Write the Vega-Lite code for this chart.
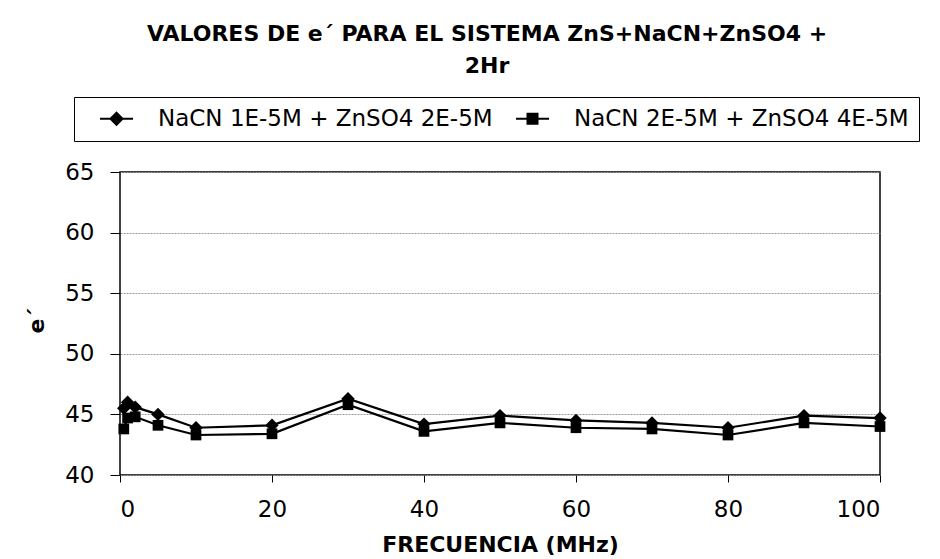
{
  "$schema": "https://vega.github.io/schema/vega-lite/v6.json",
  "width": 760,
  "height": 303,
  "autosize": {"type": "none"},
  "padding": {"left": 120, "top": 172, "right": 60, "bottom": 84},
  "background": "white",
  "title": {
    "text": ["VALORES DE e´ PARA EL SISTEMA  ZnS+NaCN+ZnSO4 +", "2Hr"],
    "font": "DejaVu Sans",
    "fontSize": 22,
    "fontWeight": "bold",
    "lineHeight": 32,
    "color": "black",
    "anchor": "middle",
    "frame": "group",
    "dx": -13,
    "offset": 19
  },
  "data": {
    "values": [
      {"freq": 0.5, "serie": "NaCN 1E-5M + ZnSO4 2E-5M", "e": 45.5},
      {"freq": 1, "serie": "NaCN 1E-5M + ZnSO4 2E-5M", "e": 46.0},
      {"freq": 2, "serie": "NaCN 1E-5M + ZnSO4 2E-5M", "e": 45.6},
      {"freq": 5, "serie": "NaCN 1E-5M + ZnSO4 2E-5M", "e": 45.0},
      {"freq": 10, "serie": "NaCN 1E-5M + ZnSO4 2E-5M", "e": 43.9},
      {"freq": 20, "serie": "NaCN 1E-5M + ZnSO4 2E-5M", "e": 44.1},
      {"freq": 30, "serie": "NaCN 1E-5M + ZnSO4 2E-5M", "e": 46.3},
      {"freq": 40, "serie": "NaCN 1E-5M + ZnSO4 2E-5M", "e": 44.2},
      {"freq": 50, "serie": "NaCN 1E-5M + ZnSO4 2E-5M", "e": 44.9},
      {"freq": 60, "serie": "NaCN 1E-5M + ZnSO4 2E-5M", "e": 44.5},
      {"freq": 70, "serie": "NaCN 1E-5M + ZnSO4 2E-5M", "e": 44.3},
      {"freq": 80, "serie": "NaCN 1E-5M + ZnSO4 2E-5M", "e": 43.9},
      {"freq": 90, "serie": "NaCN 1E-5M + ZnSO4 2E-5M", "e": 44.9},
      {"freq": 100, "serie": "NaCN 1E-5M + ZnSO4 2E-5M", "e": 44.7},
      {"freq": 0.5, "serie": "NaCN 2E-5M + ZnSO4 4E-5M", "e": 43.8},
      {"freq": 1, "serie": "NaCN 2E-5M + ZnSO4 4E-5M", "e": 44.7},
      {"freq": 2, "serie": "NaCN 2E-5M + ZnSO4 4E-5M", "e": 44.8},
      {"freq": 5, "serie": "NaCN 2E-5M + ZnSO4 4E-5M", "e": 44.1},
      {"freq": 10, "serie": "NaCN 2E-5M + ZnSO4 4E-5M", "e": 43.3},
      {"freq": 20, "serie": "NaCN 2E-5M + ZnSO4 4E-5M", "e": 43.4},
      {"freq": 30, "serie": "NaCN 2E-5M + ZnSO4 4E-5M", "e": 45.8},
      {"freq": 40, "serie": "NaCN 2E-5M + ZnSO4 4E-5M", "e": 43.6},
      {"freq": 50, "serie": "NaCN 2E-5M + ZnSO4 4E-5M", "e": 44.3},
      {"freq": 60, "serie": "NaCN 2E-5M + ZnSO4 4E-5M", "e": 43.9},
      {"freq": 70, "serie": "NaCN 2E-5M + ZnSO4 4E-5M", "e": 43.8},
      {"freq": 80, "serie": "NaCN 2E-5M + ZnSO4 4E-5M", "e": 43.3},
      {"freq": 90, "serie": "NaCN 2E-5M + ZnSO4 4E-5M", "e": 44.3},
      {"freq": 100, "serie": "NaCN 2E-5M + ZnSO4 4E-5M", "e": 44.0}
    ]
  },
  "encoding": {
    "x": {
      "field": "freq",
      "type": "quantitative",
      "scale": {"domain": [0, 100], "nice": false, "zero": false},
      "axis": {
        "title": "FRECUENCIA (MHz)",
        "values": [0, 20, 40, 60, 80, 100],
        "grid": false,
        "domain": false,
        "ticks": true,
        "tickSize": 7,
        "tickColor": "black",
        "tickWidth": 1,
        "labelFont": "DejaVu Sans",
        "labelFontSize": 23,
        "labelColor": "black",
        "labelPadding": 16,
        "titleFont": "DejaVu Sans",
        "titleFontSize": 22,
        "titleFontWeight": "bold",
        "titleColor": "black",
        "titlePadding": 13
      }
    },
    "y": {
      "field": "e",
      "type": "quantitative",
      "scale": {"domain": [40, 65], "nice": false, "zero": false},
      "axis": {
        "title": "e´",
        "values": [40, 45, 50, 55, 60, 65],
        "grid": true,
        "gridColor": "#9a9a9a",
        "gridDash": [2, 1],
        "gridWidth": 1,
        "domain": false,
        "ticks": true,
        "tickSize": 10,
        "tickColor": "black",
        "tickWidth": 1,
        "labelFont": "DejaVu Sans",
        "labelFontSize": 23,
        "labelColor": "black",
        "labelPadding": 16,
        "titleFont": "DejaVu Sans",
        "titleFontSize": 22,
        "titleFontWeight": "bold",
        "titleColor": "black",
        "titleAngle": 270,
        "titleX": -72,
        "titleY": 148,
        "titleAlign": "center",
        "titleBaseline": "bottom"
      }
    }
  },
  "layer": [
    {
      "mark": {"type": "line", "color": "black", "strokeWidth": 2.2},
      "encoding": {"detail": {"field": "serie"}}
    },
    {
      "mark": {"type": "point", "filled": true, "color": "black", "opacity": 1},
      "encoding": {
        "shape": {
          "field": "serie",
          "type": "nominal",
          "scale": {"range": ["diamond", "square"]},
          "legend": null
        },
        "size": {
          "field": "serie",
          "type": "nominal",
          "scale": {"range": [180, 115]},
          "legend": null
        }
      }
    },
    {
      "mark": {"type": "point", "filled": false, "color": "black", "strokeWidth": 2, "opacity": 0},
      "encoding": {
        "shape": {
          "field": "serie",
          "type": "nominal",
          "scale": {"range": [
            "M-3.3,0H3.3M0,-1.2L1.2,0L0,1.2L-1.2,0ZM0,-0.75L0.75,0L0,0.75L-0.75,0ZM0,-0.3L0.3,0L0,0.3L-0.3,0Z",
            "M-3.3,0H3.3M-1,-1H1V1H-1ZM-0.6,-0.6H0.6V0.6H-0.6ZM-0.2,-0.2H0.2V0.2H-0.2Z"
          ]},
          "legend": {
            "title": null,
            "orient": "none",
            "legendX": -46,
            "legendY": -75,
            "direction": "horizontal",
            "strokeColor": "black",
            "padding": 10,
            "symbolSize": 100,
            "symbolOffset": 21,
            "labelOffset": 30,
            "columnPadding": 7,
            "labelFont": "DejaVu Sans",
            "labelFontSize": 23,
            "labelColor": "black",
            "labelLimit": 0,
            "symbolOpacity": 1,
            "symbolStrokeColor": "black",
            "symbolStrokeWidth": 2
          }
        }
      }
    }
  ],
  "resolve": {"scale": {"shape": "independent"}, "legend": {"shape": "independent"}},
  "config": {
    "view": {"stroke": "black", "strokeWidth": 1.5}
  }
}
